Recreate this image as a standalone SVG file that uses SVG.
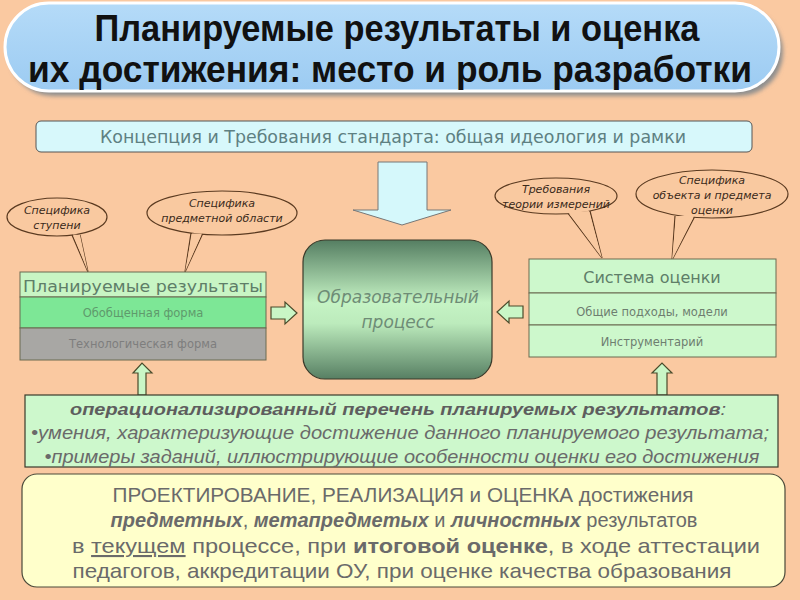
<svg xmlns="http://www.w3.org/2000/svg" width="800" height="600" viewBox="0 0 800 600">
<defs>
<linearGradient id="tg" x1="0" y1="0" x2="0" y2="1"><stop offset="0" stop-color="#B5DBF8"/><stop offset="1" stop-color="#9CCBF2"/></linearGradient>
<linearGradient id="pg" x1="0" y1="0" x2="0" y2="1"><stop offset="0" stop-color="#557E62"/><stop offset="0.45" stop-color="#C5F3C4"/><stop offset="0.6" stop-color="#BCEBBC"/><stop offset="1" stop-color="#577F63"/></linearGradient>
<filter id="sh" x="-5%" y="-10%" width="115%" height="130%"><feGaussianBlur stdDeviation="2"/></filter>
</defs>
<style>
.f{font-family:"Liberation Sans",Arial,sans-serif}
.call{fill:#F9C9A0;stroke:#5A3A20;stroke-width:1.2}
.ct{font-family:"DejaVu Sans",Verdana,sans-serif;font-style:italic;font-size:11px;fill:#3A2A1A;text-anchor:middle}
.box{stroke:#6A6A50;stroke-width:1}
.arr{fill:#C9F6C6;stroke:#4A4A2A;stroke-width:1.2}
.mid{text-anchor:middle}
</style>
<rect width="800" height="600" fill="#FAC9A1"/>

<g id="title">
<rect x="9" y="8" width="774" height="88" rx="44" fill="#8E8E8E" filter="url(#sh)"/>
<rect x="5" y="3" width="774" height="88" rx="44" fill="url(#tg)" stroke="#FFFFFF" stroke-width="3"/>
<text class="f mid" x="397" y="41" font-size="36" font-weight="bold" fill="#111" textLength="605" lengthAdjust="spacingAndGlyphs">Планируемые результаты и оценка</text>
<text class="f mid" x="390" y="82" font-size="36" font-weight="bold" fill="#111" textLength="724" lengthAdjust="spacingAndGlyphs">их достижения: место и роль разработки</text>
</g>

<g id="concept">
<rect x="36" y="121" width="716" height="31" rx="5" fill="#D7F8FB" stroke="#555" stroke-width="1"/>
<text class="mid" x="393" y="143" font-size="17.5" fill="#5E8082" font-family="DejaVu Sans" textLength="586" lengthAdjust="spacingAndGlyphs">Концепция и Требования стандарта: общая идеология и рамки</text>
</g>

<g id="connectors">
<polygon points="378,162 427,162 427,210 451,210 402,225 353,210 378,210" fill="#D5F8FB" stroke="#777" stroke-width="1"/>
<polygon class="arr" points="271,307 285,307 285,302 297,313 285,324 285,319 271,319"/>
<polygon class="arr" points="523,306 509,306 509,301 497,312 509,323 509,318 523,318"/>
<polygon class="arr" points="138,395 138,373 133,373 142,363 152,373 146,373 146,395"/>
<polygon class="arr" points="657,395 657,373 652,373 662,363 672,373 667,373 667,395"/>
</g>

<g id="callout1">
<path class="call" d="M72,235 L88,272 L80,235"/>
<ellipse class="call" cx="57" cy="217" rx="50" ry="19"/>
<path d="M73,234.5 L88,272 L80,235" fill="#F9C9A0" stroke="none"/>
<text class="ct" x="57" y="214">Специфика</text>
<text class="ct" x="57" y="229">ступени</text>
</g>

<g id="callout2">
<path class="call" d="M191,233 L185,272 L203,233"/>
<ellipse class="call" cx="222" cy="213" rx="75" ry="22"/>
<path d="M192,233.5 L185,272 L202,233.5" fill="#F9C9A0" stroke="none"/>
<text class="ct" x="222" y="207">Специфика</text>
<text class="ct" x="222" y="222">предметной области</text>
</g>

<g id="callout3">
<path class="call" d="M567,212 L602,258 L590,211"/>
<ellipse class="call" cx="556" cy="196" rx="61" ry="18"/>
<path d="M568,212 L602,258 L589,211" fill="#F9C9A0" stroke="none"/>
<text class="ct" x="556" y="193">Требования</text>
<text class="ct" x="556" y="208">теории измерений</text>
</g>

<g id="callout4">
<path class="call" d="M675,216 L672,260 L695,216"/>
<ellipse class="call" cx="712" cy="194" rx="76" ry="24"/>
<path d="M676,216 L672,260 L694,216" fill="#F9C9A0" stroke="none"/>
<text class="ct" x="712" y="184">Специфика</text>
<text class="ct" x="712" y="199">объекта и предмета</text>
<text class="ct" x="712" y="214">оценки</text>
</g>

<g id="process">
<rect x="303" y="240" width="189" height="139" rx="22" fill="url(#pg)" stroke="#3A3A2A" stroke-width="1.2"/>
<text class="mid" x="398" y="303" font-family="DejaVu Sans" font-style="italic" font-size="17" fill="#6E8C76">Образовательный</text>
<text class="mid" x="398" y="328" font-family="DejaVu Sans" font-style="italic" font-size="17" fill="#6E8C76">процесс</text>
</g>

<g id="planned">
<rect class="box" x="20" y="272" width="246" height="25" fill="#C8F5C4"/>
<rect class="box" x="20" y="297" width="246" height="31" fill="#7DE796"/>
<rect class="box" x="20" y="328" width="246" height="32" fill="#A8A7A4"/>
<text class="mid" x="143" y="292" font-family="DejaVu Sans" font-size="16" fill="#5E7E68" textLength="240" lengthAdjust="spacingAndGlyphs">Планируемые результаты</text>
<text class="mid" x="143" y="317" font-family="DejaVu Sans" font-size="11.5" fill="#5F9A6C">Обобщенная форма</text>
<text class="mid" x="143" y="348" font-family="DejaVu Sans" font-size="11.5" fill="#7E7E7E">Технологическая форма</text>
</g>

<g id="assessment">
<rect class="box" x="529" y="259" width="247" height="34" fill="#CDF8CC"/>
<rect class="box" x="529" y="293" width="247" height="32" fill="#CDF8CC"/>
<rect class="box" x="529" y="325" width="247" height="32" fill="#CDF8CC"/>
<text class="mid" x="652" y="283" font-family="DejaVu Sans" font-size="16" fill="#5E7E68">Система оценки</text>
<text class="mid" x="652" y="316" font-family="DejaVu Sans" font-size="11.5" fill="#6E7E70">Общие подходы, модели</text>
<text class="mid" x="652" y="346" font-family="DejaVu Sans" font-size="11.5" fill="#6E7E70">Инструментарий</text>
</g>

<g id="oplist">
<rect x="25" y="395" width="753" height="72" fill="#CDF8CC" stroke="#3A3A2A" stroke-width="1.2"/>
<text class="f mid" x="398" y="415" font-size="17" font-style="italic" fill="#5E5E5E" textLength="656" lengthAdjust="spacingAndGlyphs"><tspan font-weight="bold">операционализированный перечень планируемых результатов</tspan>:</text>
<text class="f mid" x="400" y="439" font-size="18" font-style="italic" fill="#6A6A6A" textLength="738" lengthAdjust="spacingAndGlyphs">•умения, характеризующие  достижение данного планируемого результата;</text>
<text class="f mid" x="402" y="463" font-size="18" font-style="italic" fill="#6A6A6A" textLength="715" lengthAdjust="spacingAndGlyphs">•примеры заданий, иллюстрирующие особенности оценки его достижения</text>
</g>

<g id="bottom">
<rect x="22" y="474" width="763" height="113" rx="15" fill="#FFFFCB" stroke="#4A4A3A" stroke-width="1.2"/>
<text class="f mid" x="403" y="502" font-size="21" fill="#6A6A6A" textLength="581" lengthAdjust="spacingAndGlyphs">ПРОЕКТИРОВАНИЕ, РЕАЛИЗАЦИЯ и ОЦЕНКА достижения</text>
<text class="f mid" x="404" y="527" font-size="20" fill="#6A6A6A"><tspan font-weight="bold" font-style="italic">предметных</tspan>, <tspan font-weight="bold" font-style="italic">метапредметых</tspan> и <tspan font-weight="bold" font-style="italic">личностных</tspan> результатов</text>
<text class="f mid" x="416" y="553" font-size="21" fill="#6A6A6A" textLength="688" lengthAdjust="spacingAndGlyphs">в <tspan text-decoration="underline">текущем</tspan> процессе, при <tspan font-weight="bold">итоговой оценке</tspan>, в ходе аттестации</text>
<text class="f mid" x="402" y="578" font-size="21" fill="#6A6A6A" textLength="659" lengthAdjust="spacingAndGlyphs">педагогов, аккредитации ОУ, при оценке качества образования</text>
</g>
</svg>
